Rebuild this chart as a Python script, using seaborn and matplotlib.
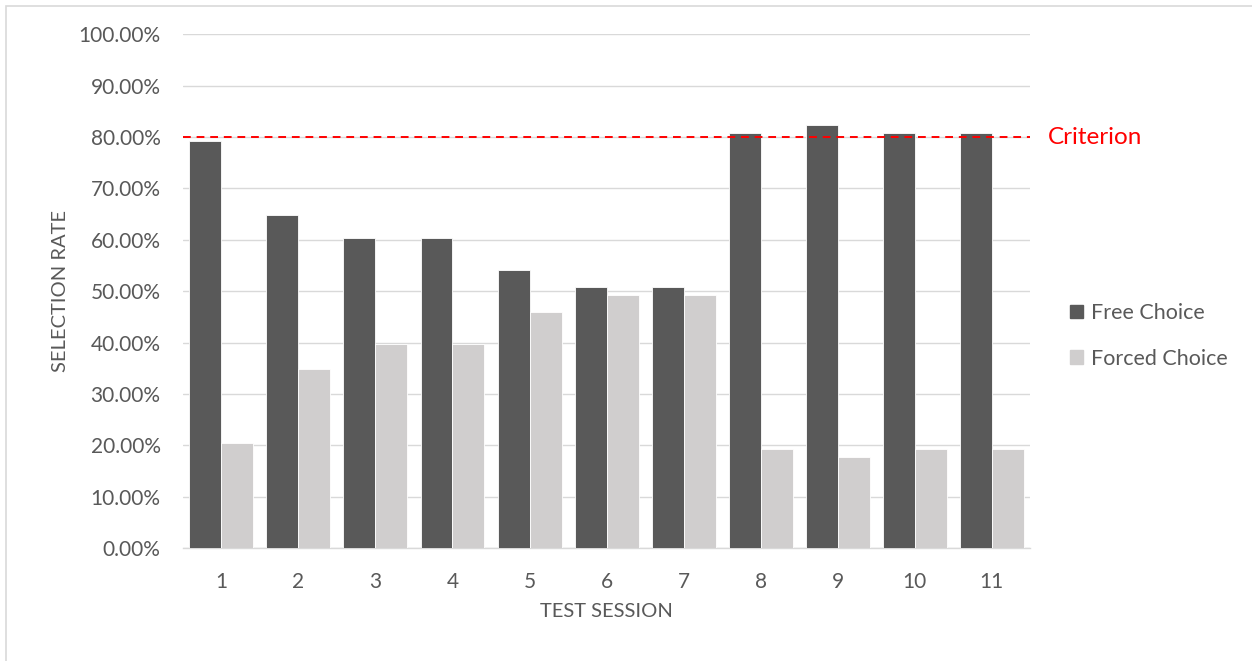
import matplotlib
matplotlib.use("Agg")
import matplotlib.pyplot as plt
import matplotlib.patches as mpatches
from matplotlib.ticker import PercentFormatter, MultipleLocator
import numpy as np
import pandas as pd
import seaborn as sns

sessions = ["1", "2", "3", "4", "5", "6", "7", "8", "9", "10", "11"]
free_choice = [79.2, 64.9, 60.3, 60.3, 54.1, 50.8, 50.8, 80.7, 82.3, 80.7, 80.7]
forced_choice = [20.5, 34.8, 39.7, 39.7, 45.9, 49.2, 49.2, 19.3, 17.7, 19.3, 19.3]
series_names = ["Free Choice", "Forced Choice"]
series_colors = ["#595959", "#d0cece"]
criterion = 80.0

df = pd.DataFrame({
    "session": sessions * 2,
    "rate": free_choice + forced_choice,
    "series": [series_names[0]] * len(sessions) + [series_names[1]] * len(sessions),
})

sns.set_theme(style="white")
plt.rcParams["font.family"] = ["Lato", "DejaVu Sans"]
text_color = "#595959"

fig = plt.figure(figsize=(12.52, 6.61), dpi=100)
ax = fig.add_axes([0.146, 0.171, 0.677, 0.777])

sns.barplot(data=df, x="session", y="rate", hue="series", order=sessions,
            hue_order=series_names, palette=series_colors, width=0.83,
            saturation=1, edgecolor="white", linewidth=0.6, ax=ax, zorder=3)

ax.set_ylim(0, 100)
ax.set_xlim(-0.5, len(sessions) - 0.5)
ax.yaxis.set_major_locator(MultipleLocator(10))
ax.yaxis.set_major_formatter(PercentFormatter(decimals=2))
ax.grid(axis="y", color="#d9d9d9", linewidth=1.0, zorder=0)
ax.set_axisbelow(True)

for side in ["top", "right", "left"]:
    ax.spines[side].set_visible(False)
ax.spines["bottom"].set_color("#d9d9d9")
ax.spines["bottom"].set_linewidth(1.0)
ax.tick_params(axis="both", length=0, colors=text_color, labelsize=15)
ax.tick_params(axis="y", pad=16)
ax.tick_params(axis="x", pad=17)

ax.set_xlabel("TEST SESSION", fontsize=14.5, color=text_color, labelpad=8)
ax.set_ylabel("SELECTION RATE", fontsize=14.5, color=text_color, labelpad=7)

# criterion reference line and its label
ax.axhline(criterion, color="#ff0000", linestyle=(0, (4, 3)), linewidth=1.4, zorder=4)
ax.text(1.021, criterion / 100, "Criterion", transform=ax.transAxes,
        color="#ff0000", fontsize=17.5, va="center", ha="left")

handles = [mpatches.Patch(color=c, label=n) for c, n in zip(series_colors, series_names)]
ax.legend(handles=handles, loc="center left", bbox_to_anchor=(1.024, 0.413),
          frameon=False, fontsize=15.5, handlelength=0.6, handleheight=0.6,
          handletextpad=0.35, labelspacing=1.2, labelcolor=text_color)

# light frame around the chart area
fig.patches.append(mpatches.Rectangle((6 / 1252, -0.01), 1.02, 1 - 6 / 661 + 0.01,
                                      transform=fig.transFigure, fill=False,
                                      edgecolor="#d9d9d9", linewidth=1.2))

fig.savefig("out.png", dpi=100, facecolor="white")
